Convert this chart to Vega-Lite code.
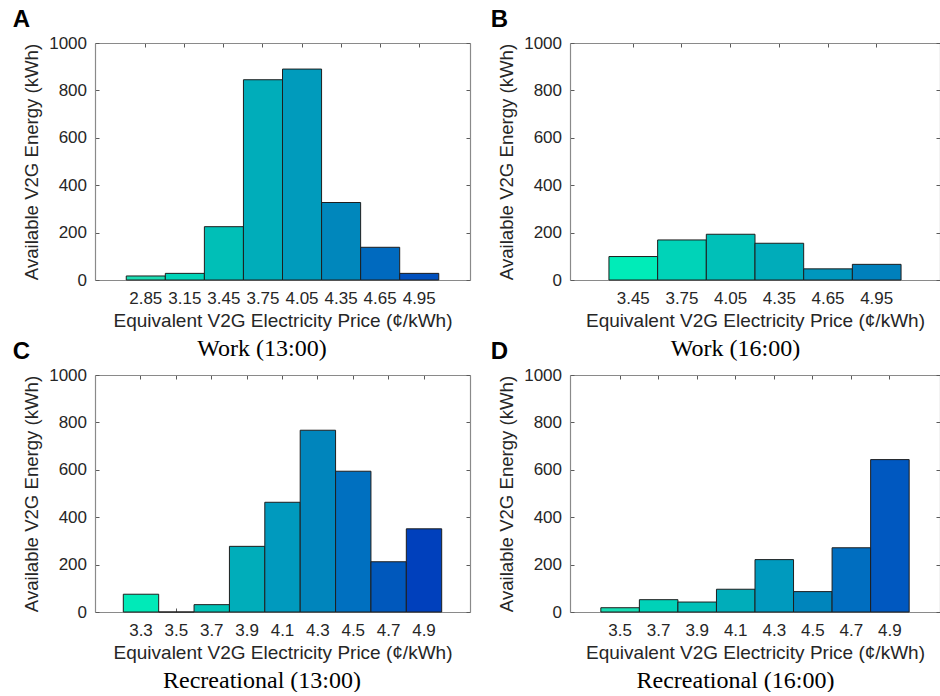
{
  "$schema": "https://vega.github.io/schema/vega-lite/v6.json",
  "padding": {"left": 12, "top": 8, "right": 0, "bottom": 0},
  "background": "white",
  "config": {
    "view": {"stroke": null},
    "font": "Liberation Sans",
    "axis": {
      "labelFont": "Liberation Sans", "labelFontSize": 17, "labelColor": "#262626",
      "titleFont": "Liberation Sans", "titleFontSize": 19, "titleColor": "#262626", "titleFontWeight": "normal",
      "domainColor": "#8a8a8a", "domainWidth": 1.2, "tickColor": "#5a5a5a", "tickWidth": 1,
      "grid": false, "zindex": 1, "labelOverlap": false
    },
    "axisY": {"titleFontSize": 18.6},
    "title": {"anchor": "start", "frame": "bounds", "font": "Liberation Sans", "fontSize": 24, "fontWeight": "bold", "color": "#000000", "offset": 2},
    "bar": {"stroke": "#1e1e1e", "strokeWidth": 1}
  },
  "datasets": {
    "a": [
      {"price": "2.85", "energy": 17}, {"price": "3.15", "energy": 28}, {"price": "3.45", "energy": 225},
      {"price": "3.75", "energy": 845}, {"price": "4.05", "energy": 890}, {"price": "4.35", "energy": 327},
      {"price": "4.65", "energy": 138}, {"price": "4.95", "energy": 28}
    ],
    "b": [
      {"price": "3.45", "energy": 99}, {"price": "3.75", "energy": 169}, {"price": "4.05", "energy": 193},
      {"price": "4.35", "energy": 155}, {"price": "4.65", "energy": 47}, {"price": "4.95", "energy": 66}
    ],
    "c": [
      {"price": "3.3", "energy": 75}, {"price": "3.5", "energy": 0}, {"price": "3.7", "energy": 31},
      {"price": "3.9", "energy": 277}, {"price": "4.1", "energy": 463}, {"price": "4.3", "energy": 767},
      {"price": "4.5", "energy": 594}, {"price": "4.7", "energy": 212}, {"price": "4.9", "energy": 351}
    ],
    "d": [
      {"price": "3.5", "energy": 18}, {"price": "3.7", "energy": 52}, {"price": "3.9", "energy": 42},
      {"price": "4.1", "energy": 96}, {"price": "4.3", "energy": 221}, {"price": "4.5", "energy": 86},
      {"price": "4.7", "energy": 271}, {"price": "4.9", "energy": 643}
    ]
  },
  "columns": 2,
  "bounds": "flush",
  "spacing": {"row": 95, "column": 100},
  "resolve": {"scale": {"color": "independent", "x": "independent", "y": "independent"}},
  "concat": [
    {
      "width": 375, "height": 237,
      "data": {"name": "a"},
      "title": {"text": "A", "dx": -10},
      "layer": [
        {
          "mark": {"type": "bar"},
          "encoding": {
            "x": {"field": "price", "type": "nominal", "sort": null, "scale": {"paddingInner": 0, "paddingOuter": 0.8},
                  "axis": {"orient": "bottom", "title": "Equivalent V2G Electricity Price (¢/kWh)", "labelAngle": 0, "tickSize": -4, "labelPadding": 14, "titlePadding": 5}},
            "y": {"field": "energy", "type": "quantitative", "scale": {"domain": [0, 1000], "nice": false},
                  "axis": {"orient": "left", "title": "Available V2G Energy (kWh)", "format": "d", "values": [0, 200, 400, 600, 800, 1000], "tickSize": -4, "labelPadding": 12.5, "titlePadding": 7}},
            "color": {"field": "price", "type": "nominal", "legend": null,
                      "scale": {"domain": ["2.85","3.15","3.45","3.75","4.05","4.35","4.65","4.95"],
                                "range": ["#1CDDB3","#00D4B8","#00BFB7","#00ADBA","#009BBC","#0087BC","#006ABF","#0050BE"]}}
          }
        },
        {
          "mark": {"type": "bar", "opacity": 0, "strokeOpacity": 0},
          "encoding": {
            "x": {"field": "price", "type": "nominal", "sort": null, "axis": {"orient": "top", "labels": false, "title": null, "tickSize": -4}},
            "y": {"field": "energy", "type": "quantitative", "axis": {"orient": "right", "labels": false, "title": null, "values": [0, 200, 400, 600, 800, 1000], "tickSize": -4}}
          }
        },
        {
          "mark": {"type": "bar", "opacity": 0, "strokeOpacity": 0},
          "encoding": {
            "x": {"field": "price", "type": "nominal", "sort": null, "axis": {"orient": "bottom", "offset": 56, "labels": false, "ticks": false, "domain": false, "title": "Work (13:00)", "titleX": 166.5, "titleFont": "Liberation Serif", "titleFontSize": 24, "titleColor": "#000000", "titlePadding": 0}},
            "y": {"field": "energy", "type": "quantitative", "axis": null}
          }
        }
      ],
      "resolve": {"axis": {"x": "independent", "y": "independent"}}
    },
    {
      "width": 370, "height": 237,
      "data": {"name": "b"},
      "title": {"text": "B", "dx": -7},
      "layer": [
        {
          "mark": {"type": "bar"},
          "encoding": {
            "x": {"field": "price", "type": "nominal", "sort": null, "scale": {"paddingInner": 0, "paddingOuter": 0.8},
                  "axis": {"orient": "bottom", "title": "Equivalent V2G Electricity Price (¢/kWh)", "labelAngle": 0, "tickSize": -4, "labelPadding": 14, "titlePadding": 5}},
            "y": {"field": "energy", "type": "quantitative", "scale": {"domain": [0, 1000], "nice": false},
                  "axis": {"orient": "left", "title": "Available V2G Energy (kWh)", "format": "d", "values": [0, 200, 400, 600, 800, 1000], "tickSize": -4, "labelPadding": 12.5, "titlePadding": 7}},
            "color": {"field": "price", "type": "nominal", "legend": null,
                      "scale": {"domain": ["3.45","3.75","4.05","4.35","4.65","4.95"],
                                "range": ["#00ECB8","#00D3B8","#00C0B8","#00ACBA","#0097BE","#0080BC"]}}
          }
        },
        {
          "mark": {"type": "bar", "opacity": 0, "strokeOpacity": 0},
          "encoding": {
            "x": {"field": "price", "type": "nominal", "sort": null, "axis": {"orient": "top", "labels": false, "title": null, "tickSize": -4}},
            "y": {"field": "energy", "type": "quantitative", "axis": {"orient": "right", "labels": false, "title": null, "values": [0, 200, 400, 600, 800, 1000], "tickSize": -4}}
          }
        },
        {
          "mark": {"type": "bar", "opacity": 0, "strokeOpacity": 0},
          "encoding": {
            "x": {"field": "price", "type": "nominal", "sort": null, "axis": {"orient": "bottom", "offset": 56, "labels": false, "ticks": false, "domain": false, "title": "Work (16:00)", "titleX": 165, "titleFont": "Liberation Serif", "titleFontSize": 24, "titleColor": "#000000", "titlePadding": 0}},
            "y": {"field": "energy", "type": "quantitative", "axis": null}
          }
        }
      ],
      "resolve": {"axis": {"x": "independent", "y": "independent"}}
    },
    {
      "width": 375, "height": 237,
      "data": {"name": "c"},
      "title": {"text": "C", "dx": -10},
      "layer": [
        {
          "mark": {"type": "bar"},
          "encoding": {
            "x": {"field": "price", "type": "nominal", "sort": null, "scale": {"paddingInner": 0, "paddingOuter": 0.8},
                  "axis": {"orient": "bottom", "title": "Equivalent V2G Electricity Price (¢/kWh)", "labelAngle": 0, "tickSize": -4, "labelPadding": 14, "titlePadding": 5}},
            "y": {"field": "energy", "type": "quantitative", "scale": {"domain": [0, 1000], "nice": false},
                  "axis": {"orient": "left", "title": "Available V2G Energy (kWh)", "format": "d", "values": [0, 200, 400, 600, 800, 1000], "tickSize": -4, "labelPadding": 12.5, "titlePadding": 7}},
            "color": {"field": "price", "type": "nominal", "legend": null,
                      "scale": {"domain": ["3.3","3.5","3.7","3.9","4.1","4.3","4.5","4.7","4.9"],
                                "range": ["#00EAB8","#00D4B8","#00C2B6","#00ADBA","#009ABE","#0085BC","#0070C0","#0058BC","#0040BC"]}}
          }
        },
        {
          "mark": {"type": "bar", "opacity": 0, "strokeOpacity": 0},
          "encoding": {
            "x": {"field": "price", "type": "nominal", "sort": null, "axis": {"orient": "top", "labels": false, "title": null, "tickSize": -4}},
            "y": {"field": "energy", "type": "quantitative", "axis": {"orient": "right", "labels": false, "title": null, "values": [0, 200, 400, 600, 800, 1000], "tickSize": -4}}
          }
        },
        {
          "mark": {"type": "bar", "opacity": 0, "strokeOpacity": 0},
          "encoding": {
            "x": {"field": "price", "type": "nominal", "sort": null, "axis": {"orient": "bottom", "offset": 56, "labels": false, "ticks": false, "domain": false, "title": "Recreational (13:00)", "titleX": 166.5, "titleFont": "Liberation Serif", "titleFontSize": 24, "titleColor": "#000000", "titlePadding": 0}},
            "y": {"field": "energy", "type": "quantitative", "axis": null}
          }
        }
      ],
      "resolve": {"axis": {"x": "independent", "y": "independent"}}
    },
    {
      "width": 370, "height": 237,
      "data": {"name": "d"},
      "title": {"text": "D", "dx": -7},
      "layer": [
        {
          "mark": {"type": "bar"},
          "encoding": {
            "x": {"field": "price", "type": "nominal", "sort": null, "scale": {"paddingInner": 0, "paddingOuter": 0.8},
                  "axis": {"orient": "bottom", "title": "Equivalent V2G Electricity Price (¢/kWh)", "labelAngle": 0, "tickSize": -4, "labelPadding": 14, "titlePadding": 5}},
            "y": {"field": "energy", "type": "quantitative", "scale": {"domain": [0, 1000], "nice": false},
                  "axis": {"orient": "left", "title": "Available V2G Energy (kWh)", "format": "d", "values": [0, 200, 400, 600, 800, 1000], "tickSize": -4, "labelPadding": 12.5, "titlePadding": 7}},
            "color": {"field": "price", "type": "nominal", "legend": null,
                      "scale": {"domain": ["3.5","3.7","3.9","4.1","4.3","4.5","4.7","4.9"],
                                "range": ["#16DEB4","#00D2B8","#00C0B8","#00ADBA","#009ABE","#0085BC","#006EC0","#0058C0"]}}
          }
        },
        {
          "mark": {"type": "bar", "opacity": 0, "strokeOpacity": 0},
          "encoding": {
            "x": {"field": "price", "type": "nominal", "sort": null, "axis": {"orient": "top", "labels": false, "title": null, "tickSize": -4}},
            "y": {"field": "energy", "type": "quantitative", "axis": {"orient": "right", "labels": false, "title": null, "values": [0, 200, 400, 600, 800, 1000], "tickSize": -4}}
          }
        },
        {
          "mark": {"type": "bar", "opacity": 0, "strokeOpacity": 0},
          "encoding": {
            "x": {"field": "price", "type": "nominal", "sort": null, "axis": {"orient": "bottom", "offset": 56, "labels": false, "ticks": false, "domain": false, "title": "Recreational (16:00)", "titleX": 165, "titleFont": "Liberation Serif", "titleFontSize": 24, "titleColor": "#000000", "titlePadding": 0}},
            "y": {"field": "energy", "type": "quantitative", "axis": null}
          }
        }
      ],
      "resolve": {"axis": {"x": "independent", "y": "independent"}}
    }
  ]
}
